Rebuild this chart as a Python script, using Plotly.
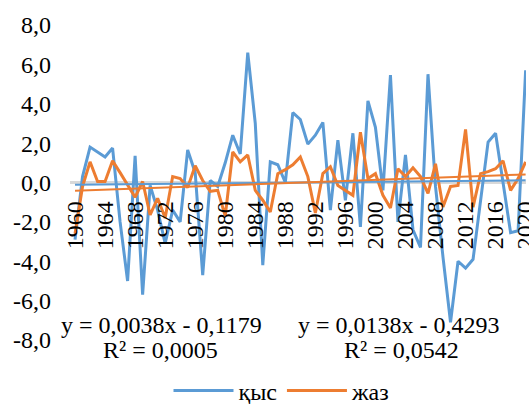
import plotly.graph_objects as go

years = list(range(1960, 2021))

winter = [-2.9, 0.3, 1.8, 1.55, 1.3, 1.75, -2.0, -5.0, 1.35, -5.7,
          -0.15, -1.4, -3.1, -1.4, -2.0, 1.65, 0.5, -4.7, 0.1, -0.2,
          1.0, 2.4, 1.45, 6.6, 3.0, -4.2, 1.05, 0.9, 0.0, 3.55,
          3.2, 1.95, 2.4, 3.05, -1.4, 2.15, -0.9, 2.5, -2.25, 4.15,
          2.8, -0.4, 5.45, -2.0, 1.4, -2.4, -3.3, 5.5, -0.2, -3.8,
          -7.1, -4.0, -4.35, -3.9, -1.0, 2.05, 2.5, 0.0, -2.55, -2.45,
          5.7]

summer = [-2.6, -0.2, 1.05, 0.05, 0.05, 1.1, 0.5, -0.1, -0.75, 0.05,
          -1.65, -0.8, -1.8, 0.3, 0.2, -0.25, 0.85, 0.1, -0.45, -0.4,
          -1.7, 1.55, 1.05, 1.4, -0.4, -0.9, -1.5, 0.45, 0.65, 0.9,
          1.3, 0.3, -1.55, 0.45, 0.8, -0.15, -0.4, -0.65, 2.55, 0.2,
          0.45, -0.65, -1.3, 0.7, 0.3, 0.75, 0.3, -0.55, 0.95, -1.25,
          -0.2, -0.15, 2.7, -1.25, 0.45, 0.55, 0.7, 1.1, -0.4, 0.2,
          1.05]

series_names = ["қыс", "жаз"]
trend_slope = [0.0038, 0.0138]
trend_intercept = [-0.1179, -0.4293]
trend_eq = ["y = 0,0038x - 0,1179", "y = 0,0138x - 0,4293"]
trend_r2 = ["R² = 0,0005", "R² = 0,0542"]

y_tickvals = [-8, -6, -4, -2, 0, 2, 4, 6, 8]
y_ticktext = ["-8,0", "-6,0", "-4,0", "-2,0", "0,0", "2,0", "4,0", "6,0", "8,0"]
x_tickvals = list(range(1960, 2021, 4))

BLUE = "#5B9BD5"
ORANGE = "#ED7D31"
FONT = "Liberation Serif"
FS = 24

fig = go.Figure()
for name, vals, col in [(series_names[0], winter, BLUE), (series_names[1], summer, ORANGE)]:
    fig.add_trace(go.Scatter(x=years, y=vals, mode="lines", name=name,
                             line=dict(color=col, width=3)))

for slope, icpt, col in zip(trend_slope, trend_intercept, [BLUE, ORANGE]):
    tr = [slope * (i + 1) + icpt for i in range(len(years))]
    fig.add_trace(go.Scatter(x=years, y=tr, mode="lines", showlegend=False,
                             line=dict(color=col, width=2), hoverinfo="skip"))

# equation labels (paper coords: plot area spans x 70..526 px, y 25..340 px)
eq_pos = [(0.1996, 0.1974), (0.7215, 0.726)]
for (xe, xr), eq, r2 in zip(eq_pos, trend_eq, trend_r2):
    fig.add_annotation(x=xe, y=(340 - 325) / 315, xref="paper", yref="paper", text=eq,
                       showarrow=False, font=dict(family=FONT, size=FS, color="#000"),
                       xanchor="center", yanchor="middle")
    fig.add_annotation(x=xr, y=(340 - 350) / 315, xref="paper", yref="paper", text=r2,
                       showarrow=False, font=dict(family=FONT, size=FS, color="#000"),
                       xanchor="center", yanchor="middle")

fig.update_layout(
    width=529, height=404,
    margin=dict(l=70, r=3, t=25, b=64, autoexpand=False),
    paper_bgcolor="white", plot_bgcolor="white",
    font=dict(family=FONT, size=FS, color="#000"),
    showlegend=True,
    legend=dict(orientation="h", xref="container", yref="container",
                x=(282 / 529), xanchor="center", y=(404 - 391) / 404, yanchor="middle",
                font=dict(family=FONT, size=FS), itemwidth=60, bgcolor="rgba(0,0,0,0)"),
    xaxis=dict(range=[1959.33, 2020.05], tickvals=x_tickvals, tickangle=-90,
               anchor="free", position=0.5 - 13 / 315, showgrid=False, zeroline=False,
               showline=False, ticks="",
               ticklabeloverflow="allow",
               tickfont=dict(family=FONT, size=FS)),
    yaxis=dict(range=[-8, 8], tickvals=y_tickvals, ticktext=y_ticktext,
               showgrid=False, zeroline=True, zerolinecolor="#D9D9D9", zerolinewidth=2.5,
               showline=False, ticks="",
               ticklabelstandoff=18, tickfont=dict(family=FONT, size=FS)),
)

fig.write_html("out.html")
